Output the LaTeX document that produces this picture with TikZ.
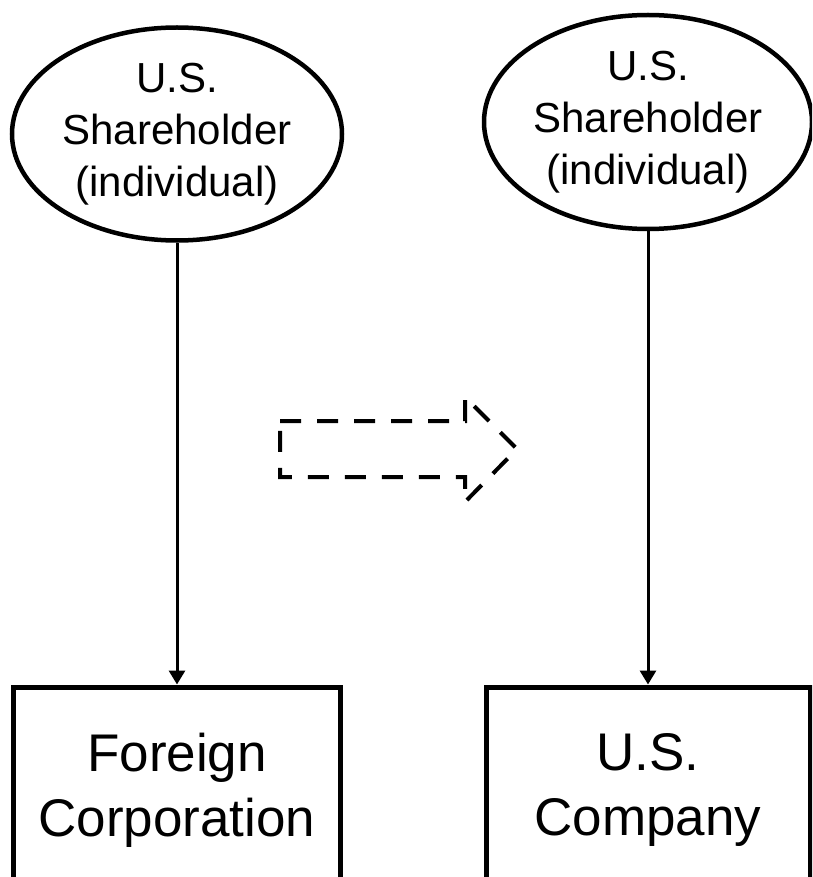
\documentclass[tikz,border=0pt]{standalone}
\usepackage{fontspec}
\setmainfont{Liberation Sans}
\usetikzlibrary{shapes.geometric,arrows.meta}
\tikzset{
  holder/.style={ellipse, draw, line width=4.5pt, inner sep=0pt, align=center,
    minimum width=330pt, minimum height=213pt, font=\fontsize{42}{52}\selectfont},
  entity/.style={rectangle, draw, line width=5pt, inner sep=0pt, align=center,
    minimum width=327pt, minimum height=206pt, font=\fontsize{53}{65}\selectfont},
  owns/.style={line width=3pt, -{Triangle[length=14pt,width=16pt]}},
  dasharrow/.style={line width=4pt, dash pattern=on 21pt off 16pt}
}
\begin{document}
\begin{tikzpicture}[x=1pt,y=-1pt]
\useasboundingbox (0,0) rectangle (812,877);
\clip (0,0) rectangle (812,877);
\node[holder] (e1) at (177,134) {U.S.\\Shareholder\\(individual)};
\node[holder, minimum width=328pt, minimum height=214pt] (e2) at (648,122) {U.S.\\Shareholder\\(individual)};
\node[entity] (b1) at (177,790) {Foreign\\Corporation};
\node[entity, minimum width=324pt] (b2) at (648,790) {U.S.\\Company};
\draw[owns] (e1.south) -- (b1.north);
\draw[owns] (e2.south) -- (b2.north);
\coordinate (a1) at (280,421);
\coordinate (a2) at (465,421);
\coordinate (a3) at (465,397);
\coordinate (a4) at (517,449);
\coordinate (a5) at (465,502);
\coordinate (a6) at (465,477);
\coordinate (a7) at (280,477);
\draw[dasharrow] (a1) -- (a2) -- (a3) -- (a4) -- (a5) -- (a6) -- (a7) -- cycle;
\end{tikzpicture}
\end{document}
